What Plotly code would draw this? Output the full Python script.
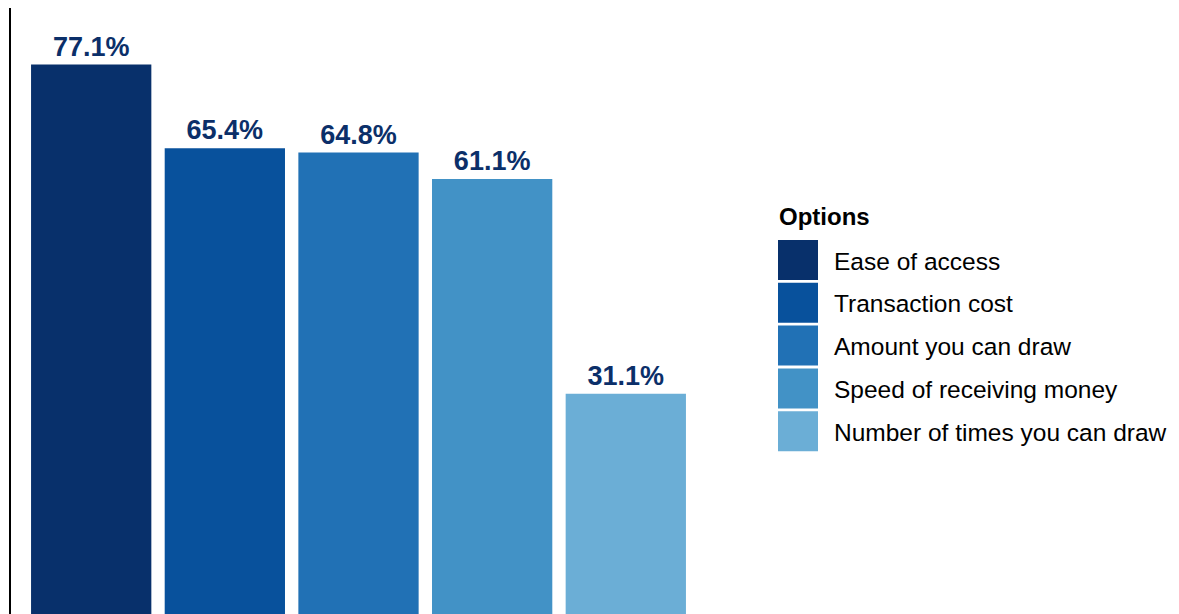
import plotly.graph_objects as go

categories = ["Ease of access", "Transaction cost", "Amount you can draw",
              "Speed of receiving money", "Number of times you can draw"]
values = [77.1, 65.4, 64.8, 61.1, 31.1]
labels = ["77.1%", "65.4%", "64.8%", "61.1%", "31.1%"]
colors = ["#08306B", "#08519C", "#2171B5", "#4292C6", "#6BAED6"]

OFF = 8  # browser body margin
W, H = 1179 - OFF, 614 - OFF
L, R, T, B = 3, 698, 0, 606  # plot area in figure pixels

def px(x):  # screen px -> paper
    return (x - OFF - L) / (R - L)

def py(y):
    return (B - (y - OFF)) / (B - T)

fig = go.Figure()
for cat, v, lab, col in zip(categories, values, labels, colors):
    fig.add_trace(go.Bar(
        x=[cat], y=[v], text=[lab], textposition="outside",
        marker=dict(color=col, line=dict(width=0)),
        textfont=dict(family="Liberation Sans, Arial", size=27, color="#0B2F69",
                      weight="bold"),
        cliponaxis=False, showlegend=False, width=0.9,
    ))

# manual legend
shapes = []
annotations = [dict(x=px(777), y=py(216), xref="paper", yref="paper",
                    text="<b>Options</b>", showarrow=False, xanchor="left",
                    yanchor="middle",
                    font=dict(family="Liberation Sans, Arial", size=24, color="black"))]
step = 42.8
for i, (cat, col) in enumerate(zip(categories, colors)):
    top = 240 + i * step
    shapes.append(dict(type="rect", xref="paper", yref="paper",
                       x0=px(778), x1=px(818), y0=py(top + 40), y1=py(top),
                       fillcolor=col, line=dict(width=0)))
    annotations.append(dict(x=px(832), y=py(top + 21), xref="paper", yref="paper",
                            text=cat, showarrow=False, xanchor="left",
                            yanchor="middle",
                            font=dict(family="Liberation Sans, Arial", size=24.5,
                                      color="black")))

fig.update_layout(
    width=W, height=H,
    margin=dict(l=L, r=W - R, t=T, b=H - B, pad=0),
    plot_bgcolor="white", paper_bgcolor="white",
    barmode="overlay", bargap=0.1,
    xaxis=dict(type="category", range=[-0.6, 4.6], showticklabels=False,
               showline=False, showgrid=False, zeroline=False, ticks=""),
    yaxis=dict(range=[0.33, 85.0], showticklabels=False, showgrid=False,
               zeroline=False, showline=True, linecolor="black", linewidth=2,
               ticks=""),
    shapes=shapes, annotations=annotations,
    uniformtext=dict(mode=False),
)

fig.write_html("out.html")
